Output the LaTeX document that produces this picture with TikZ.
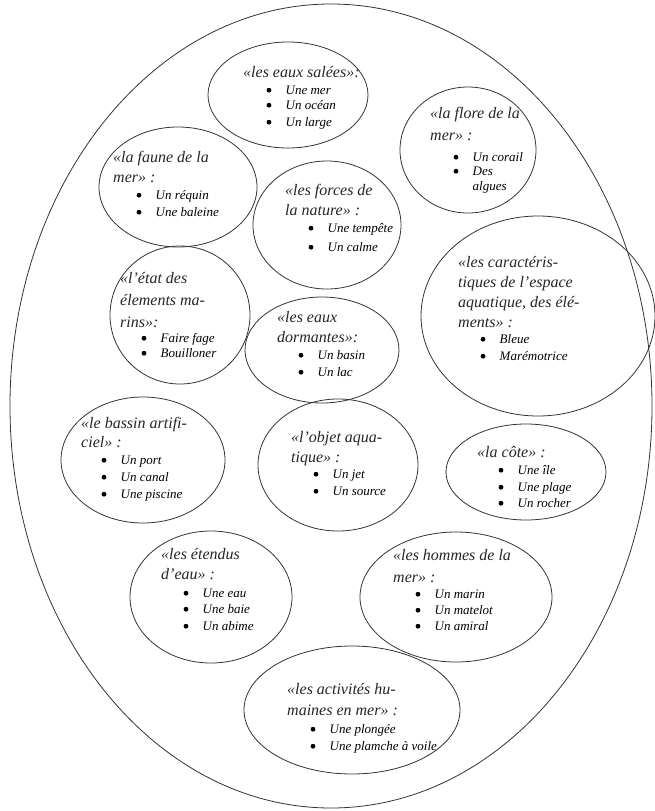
\documentclass[tikz,border=0pt]{standalone}
\usepackage{fontspec}
\setmainfont{Liberation Serif}
\usetikzlibrary{shapes.geometric,calc}
\tikzset{
  bub/.style={draw=black!80, line width=0.8pt, ellipse, inner sep=0pt, outer sep=0pt},
  ttl/.style={anchor=base west, inner sep=0pt, font=\fontsize{16}{19}\selectfont\itshape, text=black!85},
  itm/.style={anchor=base west, inner sep=0pt, font=\fontsize{13}{16}\selectfont\itshape, text=black},
  bul/.style={fill=black}
}
\newcommand{\itemat}[4]{%
  \node[itm] (#1) at (#2,#3) {#4};
  \fill[bul] ($(#1.base west)+(-16.5,-3.8)$) circle (2.4pt);}
\begin{document}
\begin{tikzpicture}[x=1pt,y=-1pt]
\useasboundingbox (0,0) rectangle (654,811);
\fill[white] (0,0) rectangle (654,811);
\node[bub, minimum width=642pt, minimum height=804pt] (outer) at (331,406) {};

% 1 eaux salees
\node[bub, minimum width=160pt, minimum height=106pt] (e1) at (288,95) {};
\node[ttl] (t1) at (243,77) {«les eaux salées»:};
\itemat{i1a}{285.5}{94}{Une mer}
\itemat{i1b}{285.5}{109}{Un océan}
\itemat{i1c}{285.5}{126}{Un large}

% 2 flore
\node[bub, minimum width=136pt, minimum height=126pt] (e2) at (468,150) {};
\node[ttl] (t2a) at (430,118) {«la flore de la};
\node[ttl] (t2b) at (430,140) {mer» :};
\itemat{i2a}{472.5}{161}{Un corail}
\itemat{i2b}{472.5}{175}{Des}
\node[itm] (i2c) at (472.5,190) {algues};

% 3 faune
\node[bub, minimum width=158pt, minimum height=120pt] (e3) at (178,187) {};
\node[ttl] (t3a) at (113,162) {«la faune de la};
\node[ttl] (t3b) at (113,182) {mer» :};
\itemat{i3a}{155.5}{199}{Un réquin}
\itemat{i3b}{155.5}{216}{Une baleine}

% 4 forces
\node[bub, minimum width=148pt, minimum height=128pt] (e4) at (327,225) {};
\node[ttl] (t4a) at (285,195) {«les forces de};
\node[ttl] (t4b) at (285,215) {la nature» :};
\itemat{i4a}{327.5}{232}{Une tempête}
\itemat{i4b}{327.5}{251}{Un calme}

% 5 caracteristiques
\node[bub, minimum width=234pt, minimum height=200pt] (e5) at (538,316) {};
\node[ttl] (t5a) at (458,267) {«les caractéris-};
\node[ttl] (t5b) at (458,287) {tiques de l’espace};
\node[ttl] (t5c) at (458,307) {aquatique, des élé-};
\node[ttl] (t5d) at (458,327) {ments» :};
\itemat{i5a}{499.5}{343}{Bleue}
\itemat{i5b}{499.5}{360}{Marémotrice}

% 6 etat
\node[bub, minimum width=140pt, minimum height=138pt] (e6) at (180,315) {};
\node[ttl] (t6a) at (120,283) {«l’état des};
\node[ttl] (t6b) at (120,305) {élements ma-};
\node[ttl] (t6c) at (120,327) {rins»:};
\itemat{i6a}{160.5}{342}{Faire fage}
\itemat{i6b}{160.5}{357}{Bouilloner}

% 7 eaux dormantes
\node[bub, minimum width=154pt, minimum height=106pt] (e7) at (322,350) {};
\node[ttl] (t7a) at (277,322) {«les eaux};
\node[ttl] (t7b) at (277,342) {dormantes»:};
\itemat{i7a}{317.5}{359}{Un basin}
\itemat{i7b}{317.5}{376}{Un lac}

% 8 bassin
\node[bub, minimum width=164pt, minimum height=126pt] (e8) at (143,460) {};
\node[ttl] (t8a) at (81,428) {«le bassin artifi-};
\node[ttl] (t8b) at (81,447) {ciel» :};
\itemat{i8a}{120.5}{464}{Un port}
\itemat{i8b}{120.5}{481}{Un canal}
\itemat{i8c}{120.5}{498}{Une piscine}

% 9 objet
\node[bub, minimum width=160pt, minimum height=132pt] (e9) at (338,465) {};
\node[ttl] (t9a) at (291,442) {«l’objet aqua-};
\node[ttl] (t9b) at (291,462) {tique» :};
\itemat{i9a}{332.5}{478}{Un jet}
\itemat{i9b}{332.5}{495}{Un source}

% 10 cote
\node[bub, minimum width=160pt, minimum height=96pt] (e10) at (526,472) {};
\node[ttl] (t10) at (477,457) {«la côte» :};
\itemat{i10a}{517.5}{474}{Une île}
\itemat{i10b}{517.5}{491}{Une plage}
\itemat{i10c}{517.5}{507}{Un rocher}

% 11 etendus
\node[bub, minimum width=162pt, minimum height=132pt] (e11) at (211,597) {};
\node[ttl] (t11a) at (161,559) {«les étendus};
\node[ttl] (t11b) at (161,579) {d’eau» :};
\itemat{i11a}{202.5}{597}{Une eau}
\itemat{i11b}{202.5}{613}{Une baie}
\itemat{i11c}{202.5}{630}{Un abime}

% 12 hommes
\node[bub, minimum width=192pt, minimum height=130pt] (e12) at (456,597) {};
\node[ttl] (t12a) at (393,560) {«les hommes de la};
\node[ttl] (t12b) at (393,582) {mer» :};
\itemat{i12a}{434.5}{598}{Un marin}
\itemat{i12b}{434.5}{614}{Un matelot}
\itemat{i12c}{434.5}{630}{Un amiral}

% 13 activites
\node[bub, minimum width=216pt, minimum height=128pt] (e13) at (352,710) {};
\node[ttl] (t13a) at (287,694) {«les activités hu-};
\node[ttl] (t13b) at (287,715) {maines en mer» :};
\itemat{i13a}{329.5}{733}{Une plongée}
\itemat{i13b}{329.5}{750}{Une plamche à voile}
\end{tikzpicture}
\end{document}
